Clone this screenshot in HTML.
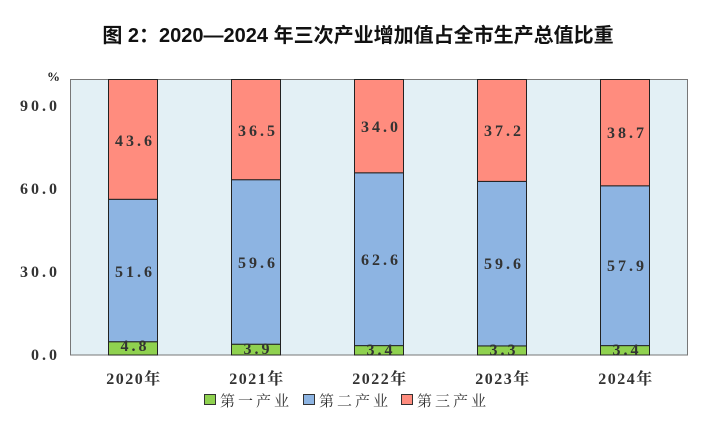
<!DOCTYPE html><html><head><meta charset="utf-8"><style>body{margin:0;background:#fff}svg{display:block}</style></head><body>
<svg width="717" height="424" xmlns="http://www.w3.org/2000/svg" font-family="'Liberation Serif','Noto Serif CJK SC',serif">
<text x="358" y="42" text-anchor="middle" font-family="'Liberation Sans','Noto Sans CJK SC',sans-serif" font-size="20" font-weight="bold" fill="#111">图 2：2020—2024 年三次产业增加值占全市生产总值比重</text>
<rect x="70.5" y="79.5" width="617" height="275.5" fill="#e3f0f5" stroke="#777" stroke-width="1"/>
<g font-size="16" font-weight="bold" fill="#333" text-anchor="end" letter-spacing="3">
<text x="60" y="111">90.0</text><text x="60" y="194">60.0</text><text x="60" y="277">30.0</text><text x="60" y="360">0.0</text></g>
<text x="60" y="81" font-size="13" font-weight="bold" fill="#222" text-anchor="end">%</text>
<g stroke="#222" stroke-width="1">
<rect x="108.5" y="341.75" width="49" height="13.25" fill="#8fd14f"/><rect x="108.5" y="199.3" width="49" height="142.4" fill="#8db4e2"/><rect x="108.5" y="79.5" width="49" height="119.8" fill="#ff8c7e"/>
<rect x="231.5" y="344.2" width="49" height="10.8" fill="#8fd14f"/><rect x="231.5" y="179.7" width="49" height="164.5" fill="#8db4e2"/><rect x="231.5" y="79.5" width="49" height="100.2" fill="#ff8c7e"/>
<rect x="354.5" y="345.6" width="49" height="9.4" fill="#8fd14f"/><rect x="354.5" y="172.8" width="49" height="172.8" fill="#8db4e2"/><rect x="354.5" y="79.5" width="49" height="93.3" fill="#ff8c7e"/>
<rect x="477.5" y="345.9" width="49" height="9.1" fill="#8fd14f"/><rect x="477.5" y="181.4" width="49" height="164.5" fill="#8db4e2"/><rect x="477.5" y="79.5" width="49" height="101.9" fill="#ff8c7e"/>
<rect x="600.5" y="345.6" width="49" height="9.4" fill="#8fd14f"/><rect x="600.5" y="185.8" width="49" height="159.8" fill="#8db4e2"/><rect x="600.5" y="79.5" width="49" height="106.3" fill="#ff8c7e"/>
</g>
<g font-size="16" font-weight="bold" fill="#333" text-anchor="middle" letter-spacing="3">
<text x="135" y="146">43.6</text><text x="135" y="277">51.6</text><text x="135" y="351">4.8</text>
<text x="258" y="136">36.5</text><text x="258" y="268">59.6</text><text x="258" y="354">3.9</text>
<text x="381" y="132">34.0</text><text x="381" y="265">62.6</text><text x="381" y="355">3.4</text>
<text x="504" y="136">37.2</text><text x="504" y="269">59.6</text><text x="504" y="355">3.3</text>
<text x="627" y="138">38.7</text><text x="627" y="271">57.9</text><text x="627" y="355">3.4</text>
</g>
<g font-size="16" font-weight="bold" fill="#333" text-anchor="middle" letter-spacing="1.5">
<text x="134" y="384">2020年</text><text x="257" y="384">2021年</text><text x="380" y="384">2022年</text><text x="503" y="384">2023年</text><text x="626" y="384">2024年</text></g>
<g stroke="#333" stroke-width="1">
<rect x="204.5" y="394.5" width="11" height="10" fill="#8fd14f"/><rect x="303.5" y="394.5" width="11" height="10" fill="#8db4e2"/><rect x="401.5" y="394.5" width="11" height="10" fill="#ff8c7e"/></g>
<g font-size="15" fill="#333" letter-spacing="3">
<text x="220" y="406">第一产业</text><text x="319" y="406">第二产业</text><text x="417" y="406">第三产业</text></g>
</svg></body></html>
